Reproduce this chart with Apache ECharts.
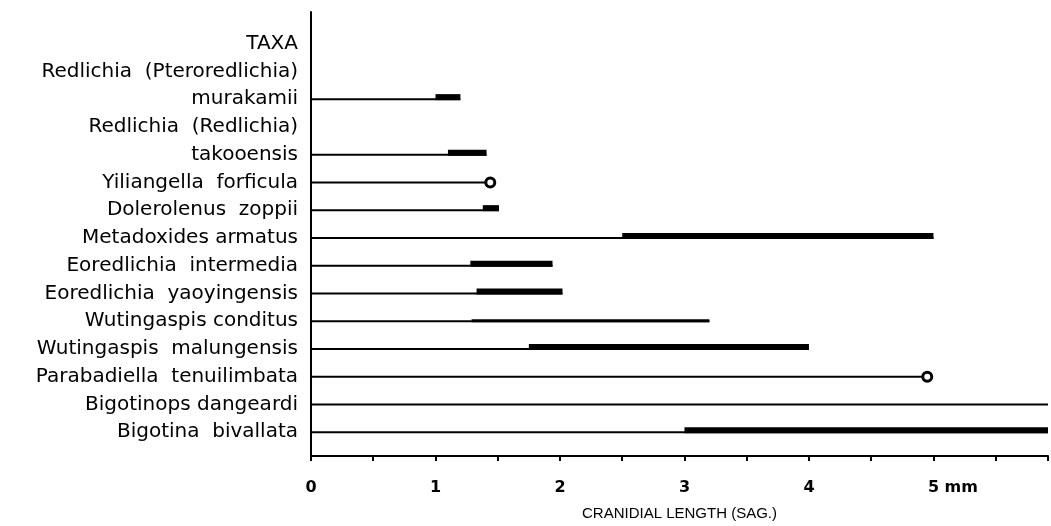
<!DOCTYPE html>
<html><head><meta charset="utf-8">
<script src="https://cdn.jsdelivr.net/npm/echarts@6/dist/echarts.min.js"></script>
<style>html,body{margin:0;padding:0;background:#fff;overflow:hidden}#c{width:1051px;height:526px}</style>
</head><body><div id="c"></div>
<script>
var taxa = ['TAXA','Redlichia  (Pteroredlichia)','murakamii','Redlichia  (Redlichia)','takooensis','Yiliangella  forficula','Dolerolenus  zoppii','Metadoxides armatus','Eoredlichia  intermedia','Eoredlichia  yaoyingensis','Wutingaspis conditus','Wutingaspis  malungensis','Parabadiella  tenuilimbata','Bigotinops dangeardi','Bigotina  bivallata'];
var lineEnd  = [null,null,1.2,null,1.41,1.44,1.51,5.0,1.94,2.02,3.2,4.0,4.95,5.92,5.92];
var barStart = [null,null,1.0,null,1.1,null,1.38,2.5,1.28,1.33,1.29,1.75,null,null,3.0];
var barEnd   = [null,null,1.2,null,1.41,null,1.51,5.0,1.94,2.02,3.2,4.0,null,null,5.92];
var barWidth = [0,0,6,0,6,0,6,6,6,6,3,6,0,0,6];
var pointAt  = [null,null,null,null,null,1.44,null,null,null,null,null,null,4.95,null,null];
var xTicks = [0,1,2,3,4,5];
var xMax = 5.92;

var rows = taxa.map(function(t,i){return [i, lineEnd[i], barStart[i], barEnd[i], barWidth[i], pointAt[i]];});
var rowIdx = taxa.map(function(t,i){return i;});

var chart = echarts.init(document.getElementById('c'));
chart.setOption({
  animation:false,
  grid:{left:311,right:0,top:12,bottom:66,containLabel:false},
  xAxis:{type:'value',min:0,max:xMax,interval:0.5,
    axisLine:{show:true,onZero:false,lineStyle:{color:'#000',width:2}},
    axisTick:{show:true,length:5,lineStyle:{color:'#000',width:2}},
    splitLine:{show:false},
    axisLabel:{margin:24,color:'#000',fontFamily:'DejaVu Sans',fontWeight:'bold',fontSize:16,
      formatter:function(v){
        if(xTicks.indexOf(v)<0) return '';
        if(v===5) return '{h|mm }5 mm';
        return String(v);},
      rich:{h:{color:'rgba(0,0,0,0)',fontFamily:'DejaVu Sans',fontWeight:'bold',fontSize:16}}},
    name:'CRANIDIAL LENGTH (SAG.)',nameLocation:'middle',nameGap:50,
    nameTextStyle:{color:'#000',fontFamily:'Liberation Sans',fontSize:15}
  },
  yAxis:{type:'value',inverse:true,min:-1.14,max:14.86,
    axisLine:{show:true,onZero:false,lineStyle:{color:'#000',width:2}},
    axisTick:{show:false},splitLine:{show:false},
    axisLabel:{margin:13,color:'#000',fontFamily:'DejaVu Sans',fontSize:20,customValues:rowIdx,
      formatter:function(v){var r=Math.round(v); if(r<0||r>=taxa.length) return ''; return taxa[r];}}
  },
  series:[{type:'custom',
    renderItem:function(params,api){
      var i=api.value(0), end=api.value(1), bs=api.value(2), be=api.value(3), bw=api.value(4), pt=api.value(5);
      var ch=[];
      if(!isNaN(end)&&end!=null){
        var p0=api.coord([0,i]), p1=api.coord([end,i]);
        ch.push({type:'line',shape:{x1:p0[0],y1:p0[1],x2:p1[0],y2:p1[1]},style:{stroke:'#000',lineWidth:2}});
      }
      if(!isNaN(bs)&&bs!=null&&bw>0){
        var q0=api.coord([bs,i]), q1=api.coord([be,i]);
        ch.push({type:'line',shape:{x1:q0[0],y1:q0[1]-bw/2+1,x2:q1[0],y2:q1[1]-bw/2+1},style:{stroke:'#000',lineWidth:bw,lineCap:'butt'}});
      }
      if(!isNaN(pt)&&pt!=null){
        var c=api.coord([pt,i]);
        ch.push({type:'circle',shape:{cx:c[0],cy:c[1],r:4.5},style:{fill:'#fff',stroke:'#000',lineWidth:3}});
      }
      return {type:'group',children:ch};
    },
    data:rows.map(function(r){return r.map(function(v){return v==null?NaN:v;});})
  }]
});
</script></body></html>
